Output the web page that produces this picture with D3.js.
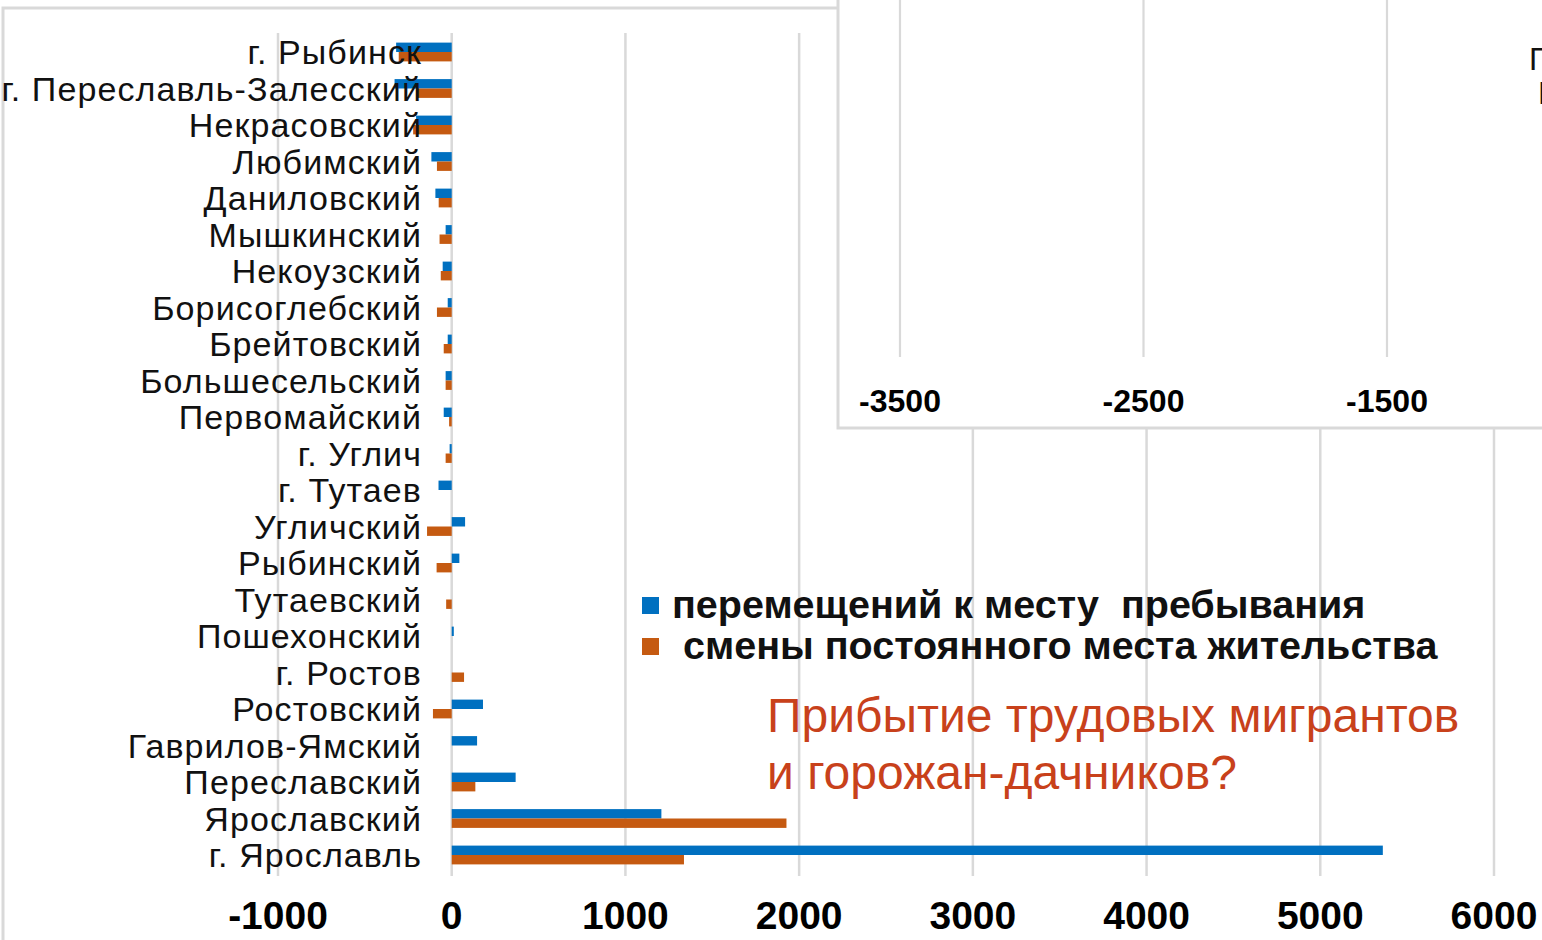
<!DOCTYPE html>
<html><head><meta charset="utf-8">
<script src="https://cdn.jsdelivr.net/npm/d3@7"></script>
<style>
html,body{margin:0;padding:0;background:#fff;overflow:hidden}
text{font-family:"Liberation Sans",Arial,sans-serif}
</style></head>
<body>
<svg id="c" width="1542" height="940"></svg>
<script>
const categories = ["г. Рыбинск","г. Переславль-Залесский","Некрасовский","Любимский","Даниловский","Мышкинский","Некоузский","Борисоглебский","Брейтовский","Большесельский","Первомайский","г. Углич","г. Тутаев","Угличский","Рыбинский","Тутаевский","Пошехонский","г. Ростов","Ростовский","Гаврилов-Ямский","Переславский","Ярославский","г. Ярославль"];
const seriesNames = ["перемещений к месту  пребывания"," смены постоянного места жительства"];
const stayValues = [-320,-329,-205,-117,-94,-35,-52,-23,-23,-35,-46,-12,-76,77,44,0,12,0,180,146,368,1207,5360];
const residenceValues = [-305,-200,-222,-85,-75,-70,-63,-85,-46,-35,-15,-35,0,-142,-87,-32,0,71,-108,0,136,1927,1337];
const xTicks = [-1000,0,1000,2000,3000,4000,5000,6000];
const insetTicks = [-3500,-2500,-1500];
const annotation = ["Прибытие трудовых мигрантов","и горожан-дачников?"];
const colors = ["#0070C0","#C55A11"];

const svg = d3.select("#c");
const grid = "#d9d9d9";

// outer frame
svg.append("path").attr("d","M3,940 V8 H838").attr("fill","none").attr("stroke",grid).attr("stroke-width",3);

const x = d3.scaleLinear().domain([-1000,6000]).range([278,1494]);
const y = d3.scaleBand().domain(categories).range([33.75,873.25]);
const bh = 9.4;
const y1 = d3.scaleBand().domain([0,1]).range([y.bandwidth()/2-bh, y.bandwidth()/2+bh]);

// gridlines
svg.append("g").selectAll("line").data(xTicks).join("line")
  .attr("x1",d=>x(d)).attr("x2",d=>x(d)).attr("y1",33).attr("y2",876)
  .attr("stroke",grid).attr("stroke-width",2.5);

// bars
const series = [stayValues, residenceValues];
series.forEach((vals,si)=>{
  svg.append("g").selectAll("rect").data(vals.map((v,i)=>({v,c:categories[i]}))).join("rect")
    .attr("x",d=>x(Math.min(0,d.v)))
    .attr("width",d=>Math.abs(x(d.v)-x(0)))
    .attr("y",d=>y(d.c)+y1(si))
    .attr("height",y1.bandwidth())
    .attr("fill",colors[si]);
});

// category labels
svg.append("g").selectAll("text").data(categories).join("text")
  .attr("x",422).attr("y",d=>y(d)+y.bandwidth()/2).attr("dy","0.36em")
  .attr("text-anchor","end").attr("font-size",34).attr("letter-spacing","1.1px")
  .attr("fill","#111").text(d=>d);

// x tick labels
svg.append("g").selectAll("text").data(xTicks).join("text")
  .attr("x",d=>x(d)).attr("y",929).attr("text-anchor","middle")
  .attr("font-size",39).attr("font-weight","bold").attr("fill","#000").text(d=>d);

// inset panel
const ix = d3.scaleLinear().domain([-3500,-1500]).range([900,1387]);
svg.append("rect").attr("x",838).attr("y",-5).attr("width",720).attr("height",433).attr("fill","#fff");
svg.append("path").attr("d","M838,0 V428 H1542").attr("fill","none").attr("stroke",grid).attr("stroke-width",3);
svg.append("g").selectAll("line").data(insetTicks).join("line")
  .attr("x1",d=>ix(d)).attr("x2",d=>ix(d)).attr("y1",0).attr("y2",357)
  .attr("stroke",grid).attr("stroke-width",2.2);
svg.append("g").selectAll("text").data(insetTicks).join("text")
  .attr("x",d=>ix(d)).attr("y",412).attr("text-anchor","middle")
  .attr("font-size",32).attr("font-weight","bold").attr("fill","#000").text(d=>d);
svg.append("text").attr("x",1529).attr("y",70).attr("font-size",32).attr("fill","#111").text("Г");
svg.append("text").attr("x",1538).attr("y",104).attr("font-size",32).attr("fill","#111").text("Г");

// legend
const lg = svg.append("g");
seriesNames.forEach((n,i)=>{
  lg.append("rect").attr("x",642).attr("y",597+i*41).attr("width",17).attr("height",17).attr("fill",colors[i]);
  lg.append("text").attr("x",672).attr("y",618+i*41).attr("font-size",39.5).attr("font-weight","bold")
    .attr("fill","#111").attr("xml:space","preserve").style("white-space","pre").text(n);
});

// annotation
svg.append("g").selectAll("text").data(annotation).join("text")
  .attr("x",767).attr("y",(d,i)=>732+i*57).attr("font-size",48).attr("fill","#C8411B").text(d=>d);
</script>
</body></html>
